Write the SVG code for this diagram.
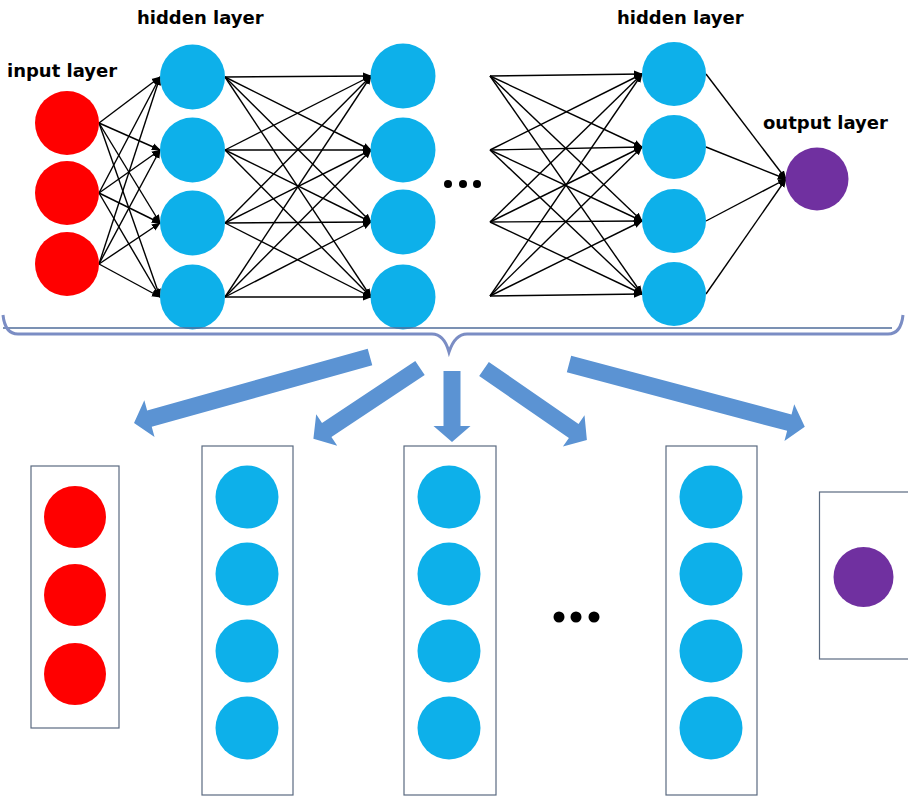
<svg xmlns="http://www.w3.org/2000/svg" width="908" height="797" viewBox="0 0 908 797">
<defs>
<style>
.lbl{font-family:"DejaVu Sans",sans-serif;font-weight:bold;font-size:18px;fill:#000}
.in{fill:#ff0000}
.hid{fill:#0db0ea}
.out{fill:#7030a0}
.box{fill:#fff;stroke:#5a6a80;stroke-width:1.2}
.con line{stroke:#000;stroke-width:1.4;marker-end:url(#ah)}
.big{fill:#5b93d3}
.dot{fill:#000}
</style>
<marker id="ah" viewBox="0 0 10 10" refX="9" refY="5" markerWidth="9" markerHeight="9" markerUnits="userSpaceOnUse" orient="auto">
<path d="M0,1 L10,5 L0,9 z" fill="#000"/>
</marker>
<polygon id="arr" points="0,0"/>
</defs>
<rect width="908" height="797" fill="#fff"/>

<text class="lbl" x="7" y="77">input layer</text>
<text class="lbl" x="137" y="24">hidden layer</text>
<text class="lbl" x="617" y="24">hidden layer</text>
<text class="lbl" x="763" y="129">output layer</text>

<g id="connectors" class="con">
<!-- input -> hidden1 -->
<line x1="99" y1="123" x2="160" y2="77"/><line x1="99" y1="123" x2="160" y2="150"/><line x1="99" y1="123" x2="160" y2="223"/><line x1="99" y1="123" x2="160" y2="297"/>
<line x1="99" y1="193" x2="160" y2="77"/><line x1="99" y1="193" x2="160" y2="150"/><line x1="99" y1="193" x2="160" y2="223"/><line x1="99" y1="193" x2="160" y2="297"/>
<line x1="99" y1="264" x2="160" y2="77"/><line x1="99" y1="264" x2="160" y2="150"/><line x1="99" y1="264" x2="160" y2="223"/><line x1="99" y1="264" x2="160" y2="297"/>
<!-- hidden1 -> hidden2 -->
<line x1="225" y1="77" x2="371" y2="76"/><line x1="225" y1="77" x2="371" y2="150"/><line x1="225" y1="77" x2="371" y2="222"/><line x1="225" y1="77" x2="371" y2="297"/>
<line x1="225" y1="150" x2="371" y2="76"/><line x1="225" y1="150" x2="371" y2="150"/><line x1="225" y1="150" x2="371" y2="222"/><line x1="225" y1="150" x2="371" y2="297"/>
<line x1="225" y1="223" x2="371" y2="76"/><line x1="225" y1="223" x2="371" y2="150"/><line x1="225" y1="223" x2="371" y2="222"/><line x1="225" y1="223" x2="371" y2="297"/>
<line x1="225" y1="297" x2="371" y2="76"/><line x1="225" y1="297" x2="371" y2="150"/><line x1="225" y1="297" x2="371" y2="222"/><line x1="225" y1="297" x2="371" y2="297"/>
<!-- fan -> hidden3 -->
<line x1="490" y1="76" x2="642" y2="74"/><line x1="490" y1="76" x2="642" y2="147"/><line x1="490" y1="76" x2="642" y2="221"/><line x1="490" y1="76" x2="642" y2="294"/>
<line x1="490" y1="150" x2="642" y2="74"/><line x1="490" y1="150" x2="642" y2="147"/><line x1="490" y1="150" x2="642" y2="221"/><line x1="490" y1="150" x2="642" y2="294"/>
<line x1="490" y1="222" x2="642" y2="74"/><line x1="490" y1="222" x2="642" y2="147"/><line x1="490" y1="222" x2="642" y2="221"/><line x1="490" y1="222" x2="642" y2="294"/>
<line x1="490" y1="296" x2="642" y2="74"/><line x1="490" y1="296" x2="642" y2="147"/><line x1="490" y1="296" x2="642" y2="221"/><line x1="490" y1="296" x2="642" y2="294"/>
<!-- hidden3 -> output -->
<line x1="706" y1="74" x2="786" y2="179"/><line x1="706" y1="147" x2="786" y2="179"/><line x1="706" y1="221" x2="786" y2="179"/><line x1="706" y1="294" x2="786" y2="179"/>
</g>

<g id="input-layer">
<circle class="in" cx="67" cy="123" r="32"/>
<circle class="in" cx="67" cy="193" r="32"/>
<circle class="in" cx="67" cy="264" r="32"/>
</g>
<g id="hidden-layer-1">
<circle class="hid" cx="192.5" cy="77" r="32.5"/>
<circle class="hid" cx="192.5" cy="150" r="32.5"/>
<circle class="hid" cx="192.5" cy="223" r="32.5"/>
<circle class="hid" cx="192.5" cy="297" r="32.5"/>
</g>
<g id="hidden-layer-2">
<circle class="hid" cx="403" cy="76" r="32.5"/>
<circle class="hid" cx="403" cy="150" r="32.5"/>
<circle class="hid" cx="403" cy="222" r="32.5"/>
<circle class="hid" cx="403" cy="297" r="32.5"/>
</g>
<g id="ellipsis-top">
<circle class="dot" cx="448" cy="184" r="4"/>
<circle class="dot" cx="463" cy="184" r="4"/>
<circle class="dot" cx="477" cy="184" r="4"/>
</g>
<g id="hidden-layer-3">
<circle class="hid" cx="674" cy="74" r="32"/>
<circle class="hid" cx="674" cy="147" r="32"/>
<circle class="hid" cx="674" cy="221" r="32"/>
<circle class="hid" cx="674" cy="294" r="32"/>
</g>
<g id="output-layer">
<circle class="out" cx="817" cy="179" r="31.5"/>
</g>

<g id="brace">
<line x1="3" y1="328" x2="892" y2="328" stroke="#4f6d9a" stroke-width="1.3"/>
<path d="M3,315 Q5,334 18,334 L432,334 Q444,334 449,352 Q455,334 467,334 L888,334 Q901,334 903,315" fill="none" stroke="#7b8dc4" stroke-width="3"/>
</g>

<g id="big-arrows" class="big">
<polygon transform="translate(370,357) rotate(164.4)" points="0,-8.5 229,-8.5 229,-19 245,0 229,19 229,8.5 0,8.5"/>
<polygon transform="translate(420,368) rotate(146.4)" points="0,-8.5 112,-8.5 112,-19 128,0 112,19 112,8.5 0,8.5"/>
<polygon transform="translate(452,371) rotate(90)" points="0,-8.5 55,-8.5 55,-18.5 71,0 55,18.5 55,8.5 0,8.5"/>
<polygon transform="translate(484,369) rotate(34.6)" points="0,-8.5 109,-8.5 109,-19 125,0 109,19 109,8.5 0,8.5"/>
<polygon transform="translate(569,364) rotate(14.9)" points="0,-8.5 228,-8.5 228,-19 244,0 228,19 228,8.5 0,8.5"/>
</g>

<g id="box-input">
<rect class="box" x="31" y="466" width="88" height="262"/>
<circle class="in" cx="75" cy="517" r="31"/>
<circle class="in" cx="75" cy="595" r="31"/>
<circle class="in" cx="75" cy="674" r="31"/>
</g>
<g id="box-hidden-1">
<rect class="box" x="202" y="446" width="91" height="349"/>
<circle class="hid" cx="247" cy="497" r="31.5"/>
<circle class="hid" cx="247" cy="574" r="31.5"/>
<circle class="hid" cx="247" cy="651" r="31.5"/>
<circle class="hid" cx="247" cy="728" r="31.5"/>
</g>
<g id="box-hidden-2">
<rect class="box" x="404" y="446" width="92" height="349"/>
<circle class="hid" cx="449" cy="497" r="31.5"/>
<circle class="hid" cx="449" cy="574" r="31.5"/>
<circle class="hid" cx="449" cy="651" r="31.5"/>
<circle class="hid" cx="449" cy="728" r="31.5"/>
</g>
<g id="ellipsis-bottom">
<circle class="dot" cx="559" cy="617" r="5.5"/>
<circle class="dot" cx="576" cy="617" r="5.5"/>
<circle class="dot" cx="594" cy="617" r="5.5"/>
</g>
<g id="box-hidden-3">
<rect class="box" x="666" y="446" width="91" height="349"/>
<circle class="hid" cx="711" cy="497" r="31.5"/>
<circle class="hid" cx="711" cy="574" r="31.5"/>
<circle class="hid" cx="711" cy="651" r="31.5"/>
<circle class="hid" cx="711" cy="728" r="31.5"/>
</g>
<g id="box-output">
<rect class="box" x="819.5" y="492" width="92" height="167"/>
<circle class="out" cx="863.5" cy="577" r="30"/>
</g>
</svg>
